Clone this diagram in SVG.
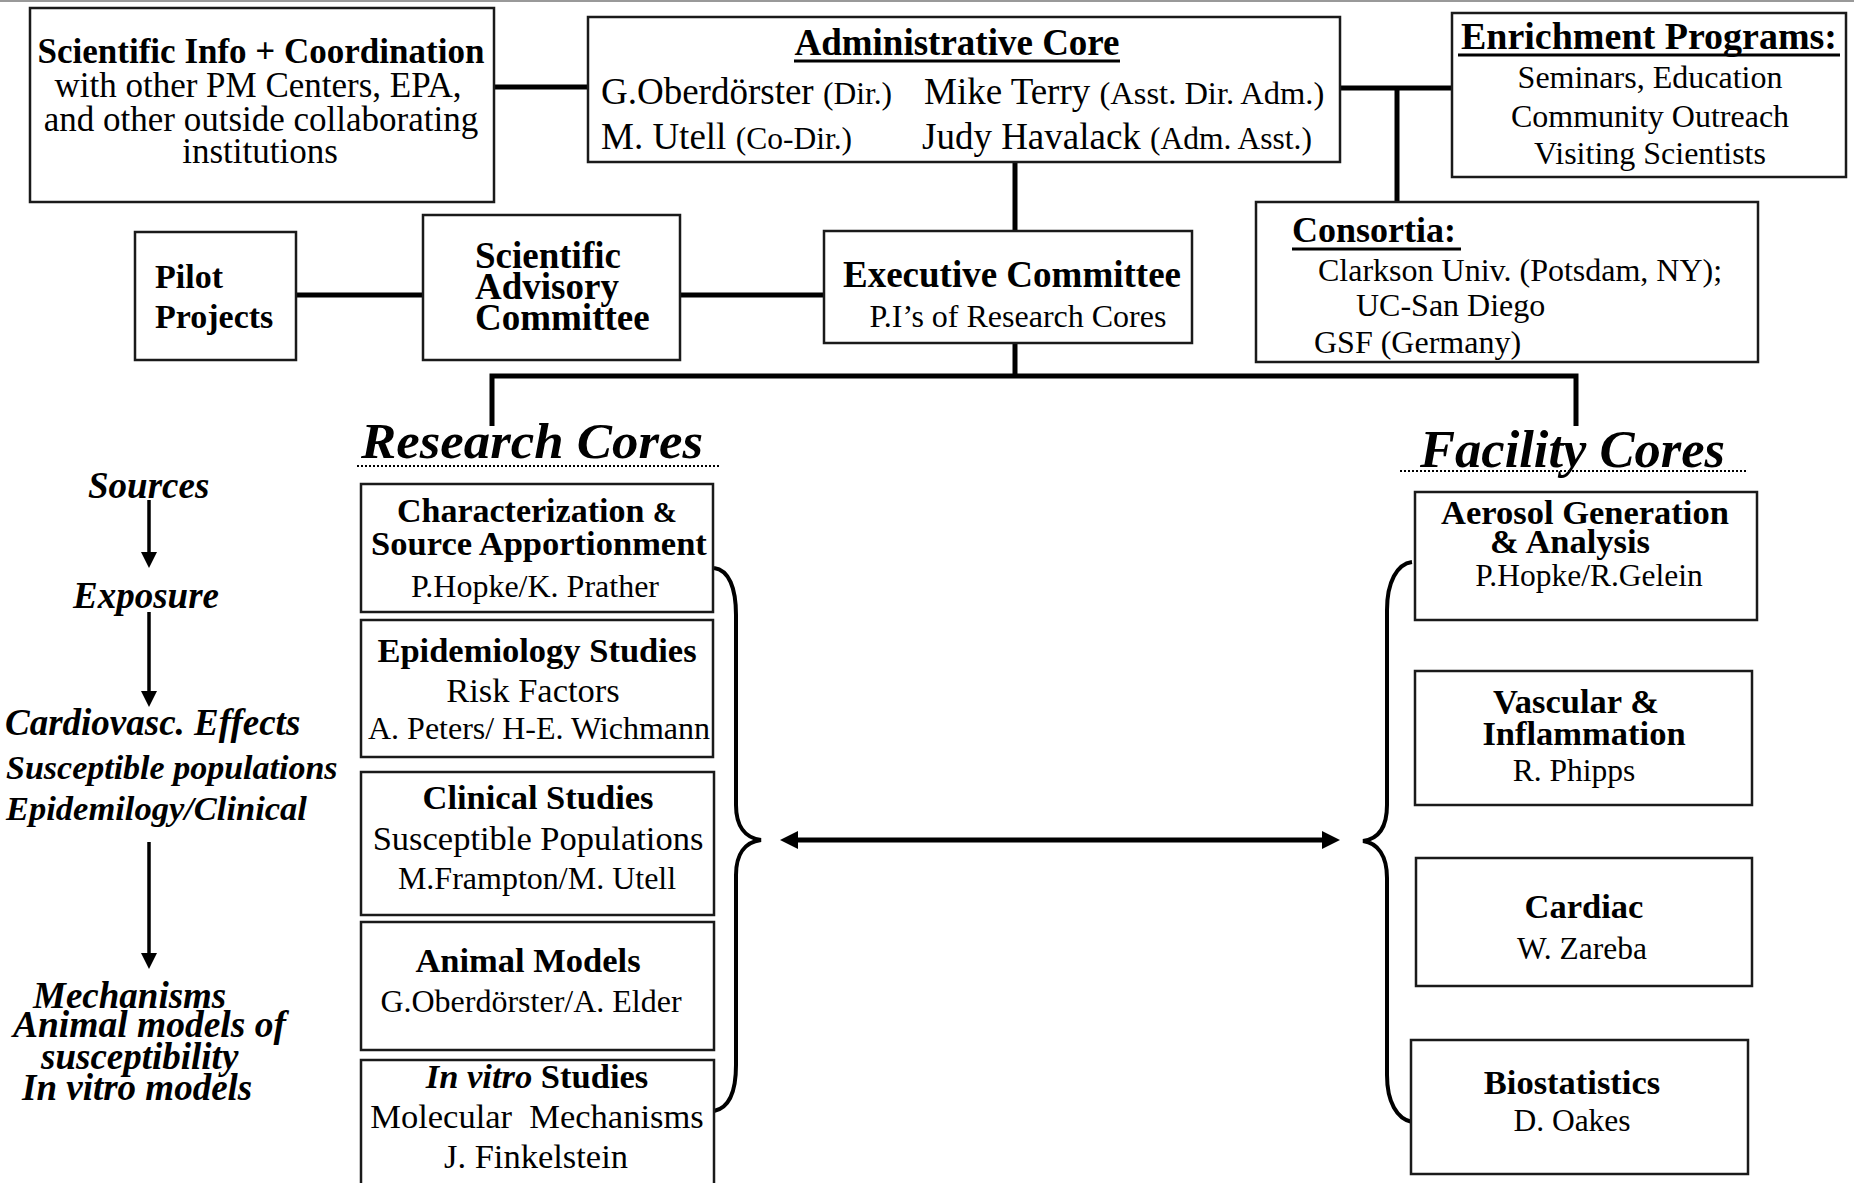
<svg xmlns="http://www.w3.org/2000/svg" width="1854" height="1183" viewBox="0 0 1854 1183">
<style>
text{font-family:"Liberation Serif","Times New Roman",serif;fill:#000}
.b{font-weight:bold}
.bi{font-weight:bold;font-style:italic}
.box{fill:#fff;stroke:#1a1a1a;stroke-width:2.5}
.c{stroke:#000;stroke-width:5;fill:none}
.ul{stroke:#000;stroke-width:3}
.fl{stroke:#000;stroke-width:3.5;fill:none}
.br{stroke:#000;stroke-width:4;fill:none}
.dot{stroke:#000;stroke-width:2;stroke-dasharray:2 2}
.m{text-anchor:middle}
</style>
<defs>
<marker id="fa" viewBox="0 0 16 16" refX="0" refY="8" markerWidth="16" markerHeight="16" markerUnits="userSpaceOnUse" orient="auto"><path d="M0,0 L16,8 L0,16 z" fill="#000"/></marker>
<marker id="da" viewBox="0 0 18 18" refX="0" refY="9" markerWidth="18" markerHeight="18" markerUnits="userSpaceOnUse" orient="auto-start-reverse"><path d="M0,0 L18,9 L0,18 z" fill="#000"/></marker>
</defs>
<rect width="1854" height="1183" fill="#fff"/>
<line x1="0" y1="1" x2="1854" y2="1" stroke="#999" stroke-width="2"/>

<g id="connectors">
<path class="c" d="M494,87 H588"/>
<path class="c" d="M1340,88 H1452"/>
<path class="c" d="M1397,88 V202"/>
<path class="c" d="M296,295 H423"/>
<path class="c" d="M680,295 H824"/>
<path class="c" d="M1015,162 V231"/>
<path class="c" d="M1015,343 V376"/>
<path class="c" d="M492,426 V376 H1576 V426"/>
<path class="fl" d="M149,500 V552" marker-end="url(#fa)"/>
<path class="fl" d="M149,612 V691" marker-end="url(#fa)"/>
<path class="fl" d="M149,842 V953" marker-end="url(#fa)"/>
<path class="br" d="M714,568 C729,570 736,588 736,615 L736,805 C736,826 745,838 761,840 C745,842 736,854 736,875 L736,1065 C736,1092 729,1108 714,1111"/>
<path class="br" d="M1412,562 C1397,564 1387,582 1387,610 L1387,805 C1387,828 1378,839 1363,841 C1378,843 1387,856 1387,878 L1387,1075 C1387,1102 1397,1119 1412,1122"/>
<path class="c" d="M798,840 H1322" marker-start="url(#da)" marker-end="url(#da)"/>
</g>

<g id="sci-info">
<rect class="box" x="30" y="8" width="464" height="194"/>
<text class="b m" x="261" y="63" font-size="35">Scientific Info + Coordination</text>
<text class="m" x="258" y="97" font-size="35">with other PM Centers, EPA,</text>
<text class="m" x="261" y="131" font-size="35">and other outside collaborating</text>
<text class="m" x="260" y="163" font-size="35">institutions</text>
</g>

<g id="admin-core">
<rect class="box" x="588" y="17" width="752" height="145"/>
<text class="b m" x="957" y="55" font-size="37">Administrative Core</text>
<line class="ul" x1="794" y1="61" x2="1120" y2="61"/>
<text x="601" y="104" font-size="37">G.Oberdörster <tspan font-size="31.5">(Dir.)</tspan></text>
<text x="924" y="104" font-size="37">Mike Terry <tspan font-size="32.5">(Asst. Dir. Adm.)</tspan></text>
<text x="601" y="149" font-size="37">M. Utell <tspan font-size="31.5">(Co-Dir.)</tspan></text>
<text x="922" y="149" font-size="37">Judy Havalack <tspan font-size="31.5">(Adm. Asst.)</tspan></text>
</g>

<g id="enrichment">
<rect class="box" x="1452" y="13" width="394" height="164"/>
<text class="b m" x="1649" y="49" font-size="38">Enrichment Programs:</text>
<line class="ul" x1="1458" y1="55" x2="1840" y2="55"/>
<text class="m" x="1650" y="88" font-size="32">Seminars, Education</text>
<text class="m" x="1650" y="127" font-size="32">Community Outreach</text>
<text class="m" x="1650" y="164" font-size="32">Visiting Scientists</text>
</g>

<g id="pilot">
<rect class="box" x="135" y="232" width="161" height="128"/>
<text class="b" x="155" y="288" font-size="34">Pilot</text>
<text class="b" x="155" y="328" font-size="34">Projects</text>
</g>

<g id="sac">
<rect class="box" x="423" y="215" width="257" height="145"/>
<text class="b" x="475" y="268" font-size="37">Scientific</text>
<text class="b" x="475" y="299" font-size="37">Advisory</text>
<text class="b" x="475" y="330" font-size="37">Committee</text>
</g>

<g id="executive">
<rect class="box" x="824" y="231" width="368" height="112"/>
<text class="b m" x="1012" y="287" font-size="37">Executive Committee</text>
<text class="m" x="1018" y="327" font-size="32">P.I’s of Research Cores</text>
</g>

<g id="consortia">
<rect class="box" x="1256" y="202" width="502" height="160"/>
<text class="b" x="1292" y="242" font-size="36">Consortia:</text>
<line class="ul" x1="1292" y1="249" x2="1461" y2="249"/>
<text x="1318" y="281" font-size="32">Clarkson Univ. (Potsdam, NY);</text>
<text x="1356" y="316" font-size="32">UC-San Diego</text>
<text x="1314" y="353" font-size="32">GSF (Germany)</text>
</g>

<g id="research-title">
<text class="bi" x="361" y="458" font-size="51" textLength="342" lengthAdjust="spacingAndGlyphs">Research Cores</text>
<line class="dot" x1="357" y1="466" x2="721" y2="466"/>
</g>
<g id="facility-title">
<text class="bi" x="1420" y="467" font-size="52" textLength="305" lengthAdjust="spacingAndGlyphs">Facility Cores</text>
<line class="dot" x1="1400" y1="471" x2="1748" y2="471"/>
</g>

<g id="flow-labels">
<text class="bi" x="88" y="498" font-size="37">Sources</text>
<text class="bi" x="73" y="608" font-size="37">Exposure</text>
<text class="bi" x="5" y="735" font-size="37">Cardiovasc. Effects</text>
<text class="bi" x="6" y="779" font-size="34">Susceptible populations</text>
<text class="bi" x="6" y="820" font-size="34.5">Epidemilogy/Clinical</text>
<text class="bi" x="33" y="1008" font-size="37">Mechanisms</text>
<text class="bi" x="13" y="1037" font-size="37.5">Animal models of</text>
<text class="bi" x="41" y="1069" font-size="37">susceptibility</text>
<text class="bi" x="22" y="1100" font-size="37">In vitro models</text>
</g>

<g id="rc-characterization">
<rect class="box" x="361" y="484" width="352" height="128"/>
<text class="b m" x="537" y="522" font-size="34">Characterization <tspan font-size="29">&amp;</tspan></text>
<text class="b m" x="539" y="555" font-size="34.5">Source Apportionment</text>
<text class="m" x="535" y="597" font-size="32">P.Hopke/K. Prather</text>
</g>
<g id="rc-epidemiology">
<rect class="box" x="361" y="620" width="352" height="137"/>
<text class="b m" x="537" y="662" font-size="34.5">Epidemiology Studies</text>
<text class="m" x="533" y="702" font-size="34.5">Risk Factors</text>
<text class="m" x="539" y="739" font-size="32">A. Peters/ H-E. Wichmann</text>
</g>
<g id="rc-clinical">
<rect class="box" x="361" y="772" width="353" height="143"/>
<text class="b m" x="538" y="809" font-size="34.5">Clinical Studies</text>
<text class="m" x="538" y="850" font-size="34.5">Susceptible Populations</text>
<text class="m" x="537" y="889" font-size="32">M.Frampton/M. Utell</text>
</g>
<g id="rc-animal">
<rect class="box" x="361" y="922" width="353" height="128"/>
<text class="b m" x="528" y="972" font-size="34.5">Animal Models</text>
<text class="m" x="531" y="1012" font-size="32">G.Oberdörster/A. Elder</text>
</g>
<g id="rc-invitro">
<rect class="box" x="361" y="1060" width="353" height="135"/>
<text class="b m" x="537" y="1088" font-size="34.5"><tspan font-style="italic">In vitro</tspan> Studies</text>
<text class="m" x="537" y="1128" font-size="34.5" xml:space="preserve">Molecular  Mechanisms</text>
<text class="m" x="536" y="1168" font-size="34.5">J. Finkelstein</text>
</g>

<g id="fc-aerosol">
<rect class="box" x="1415" y="492" width="342" height="128"/>
<text class="b m" x="1585" y="524" font-size="34.5">Aerosol Generation</text>
<text class="b m" x="1570" y="553" font-size="34.5">&amp; Analysis</text>
<text class="m" x="1589" y="586" font-size="31.5">P.Hopke/R.Gelein</text>
</g>
<g id="fc-vascular">
<rect class="box" x="1415" y="671" width="337" height="134"/>
<text class="b m" x="1576" y="713" font-size="34.5">Vascular &amp;</text>
<text class="b m" x="1584" y="745" font-size="34.5">Inflammation</text>
<text class="m" x="1574" y="781" font-size="31.5">R. Phipps</text>
</g>
<g id="fc-cardiac">
<rect class="box" x="1416" y="858" width="336" height="128"/>
<text class="b m" x="1584" y="918" font-size="34.5">Cardiac</text>
<text class="m" x="1582" y="959" font-size="31.5">W. Zareba</text>
</g>
<g id="fc-biostatistics">
<rect class="box" x="1411" y="1040" width="337" height="134"/>
<text class="b m" x="1572" y="1094" font-size="34.5">Biostatistics</text>
<text class="m" x="1572" y="1131" font-size="31.5">D. Oakes</text>
</g>
</svg>
